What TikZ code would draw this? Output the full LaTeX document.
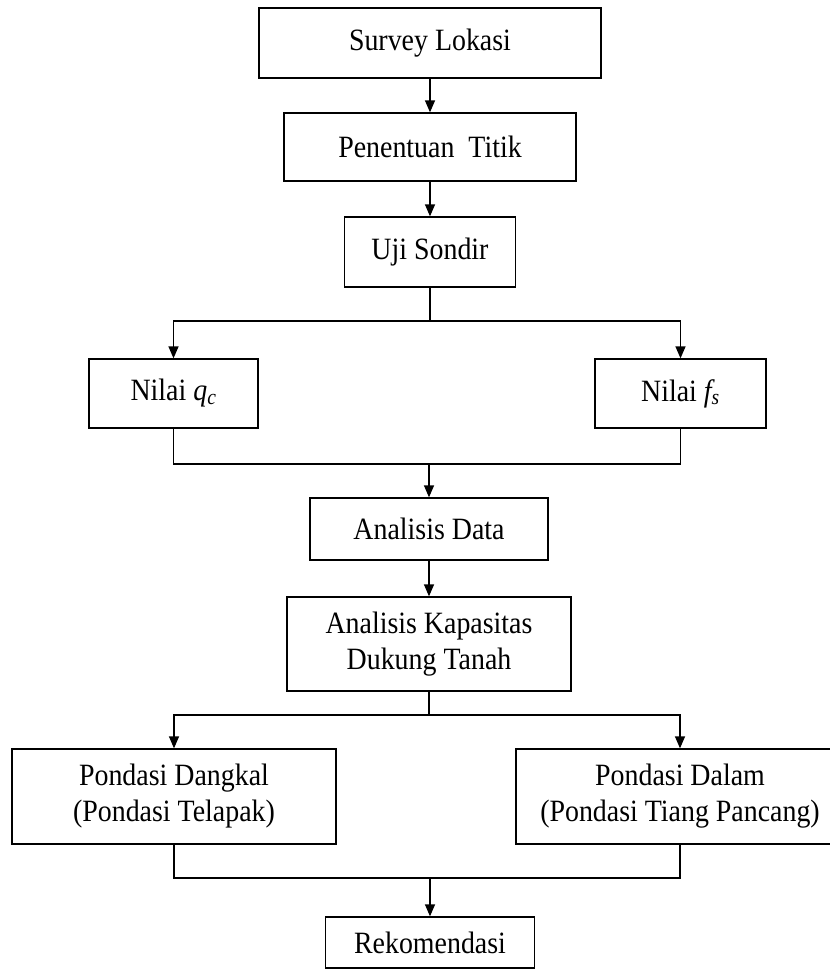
\documentclass[tikz,border=0pt]{standalone}
\usepackage{fontspec}
\setmainfont[FakeStretch=0.9]{Liberation Serif}
\usetikzlibrary{arrows.meta}
\begin{document}
\begin{tikzpicture}[x=1pt,y=-1pt,line width=1.3pt,
        blok/.style={draw,align=center,inner sep=0pt,font=\fontsize{31}{36}\selectfont},
        panah/.style={-{Triangle[length=12pt,width=10pt]}}]
        \useasboundingbox (0,0) rectangle (830,972);
        \node[blok,minimum width=342,minimum height=70] (survey) at (430,43){Survey Lokasi};
        \node[blok,minimum width=292,minimum height=68] (titik) at (430,147){Penentuan\ \ Titik};
        \node[blok,minimum width=171,minimum height=70] (sondir) at (430,252){Uji Sondir};
        \node[blok,minimum width=169,minimum height=69] (qc) at (173.5,393.5){Nilai \textit{q\textsubscript{c}}};
        \node[blok,minimum width=171,minimum height=69] (fs) at (680.5,393.5){Nilai \textit{f\textsubscript{s}}};
        \node[blok,minimum width=238,minimum height=62] (data) at (429,529){Analisis Data};
        \node[blok,minimum width=284,minimum height=94] (kapasitas) at (429,644){Analisis Kapasitas\\Dukung Tanah};
        \node[blok,minimum width=324,minimum height=95] (dangkal) at (174,796.5){Pondasi Dangkal\\(Pondasi Telapak)};
        \node[blok,minimum width=328,minimum height=95] (dalam) at (680,796.5){Pondasi Dalam\\(Pondasi Tiang Pancang)};
        \node[blok,minimum width=209,minimum height=51] (rekom) at (430,942.5){Rekomendasi};
        \coordinate (cabang1) at (430,321);
        \coordinate (gabung1) at (429,464);
        \coordinate (cabang2) at (429,715);
        \coordinate (gabung2) at (430,878);
        % alur utama
        \draw[panah] (survey) -- (titik);
        \draw[panah] (titik) -- (sondir);
        \draw (sondir.south) -- (cabang1);
        \draw[panah] (cabang1) -| (qc.north);
        \draw[panah] (cabang1) -| (fs.north);
        \draw (qc.south) |- (gabung1) -| (fs.south);
        \draw[panah] (gabung1) -- (data);
        \draw[panah] (data) -- (kapasitas);
        \draw (kapasitas.south) -- (cabang2);
        \draw[panah] (cabang2) -| (dangkal.north);
        \draw[panah] (cabang2) -| (dalam.north);
        \draw (dangkal.south) |- (gabung2) -| (dalam.south);
        \draw[panah] (gabung2) -- (rekom);
    \end{tikzpicture}
\end{document}
